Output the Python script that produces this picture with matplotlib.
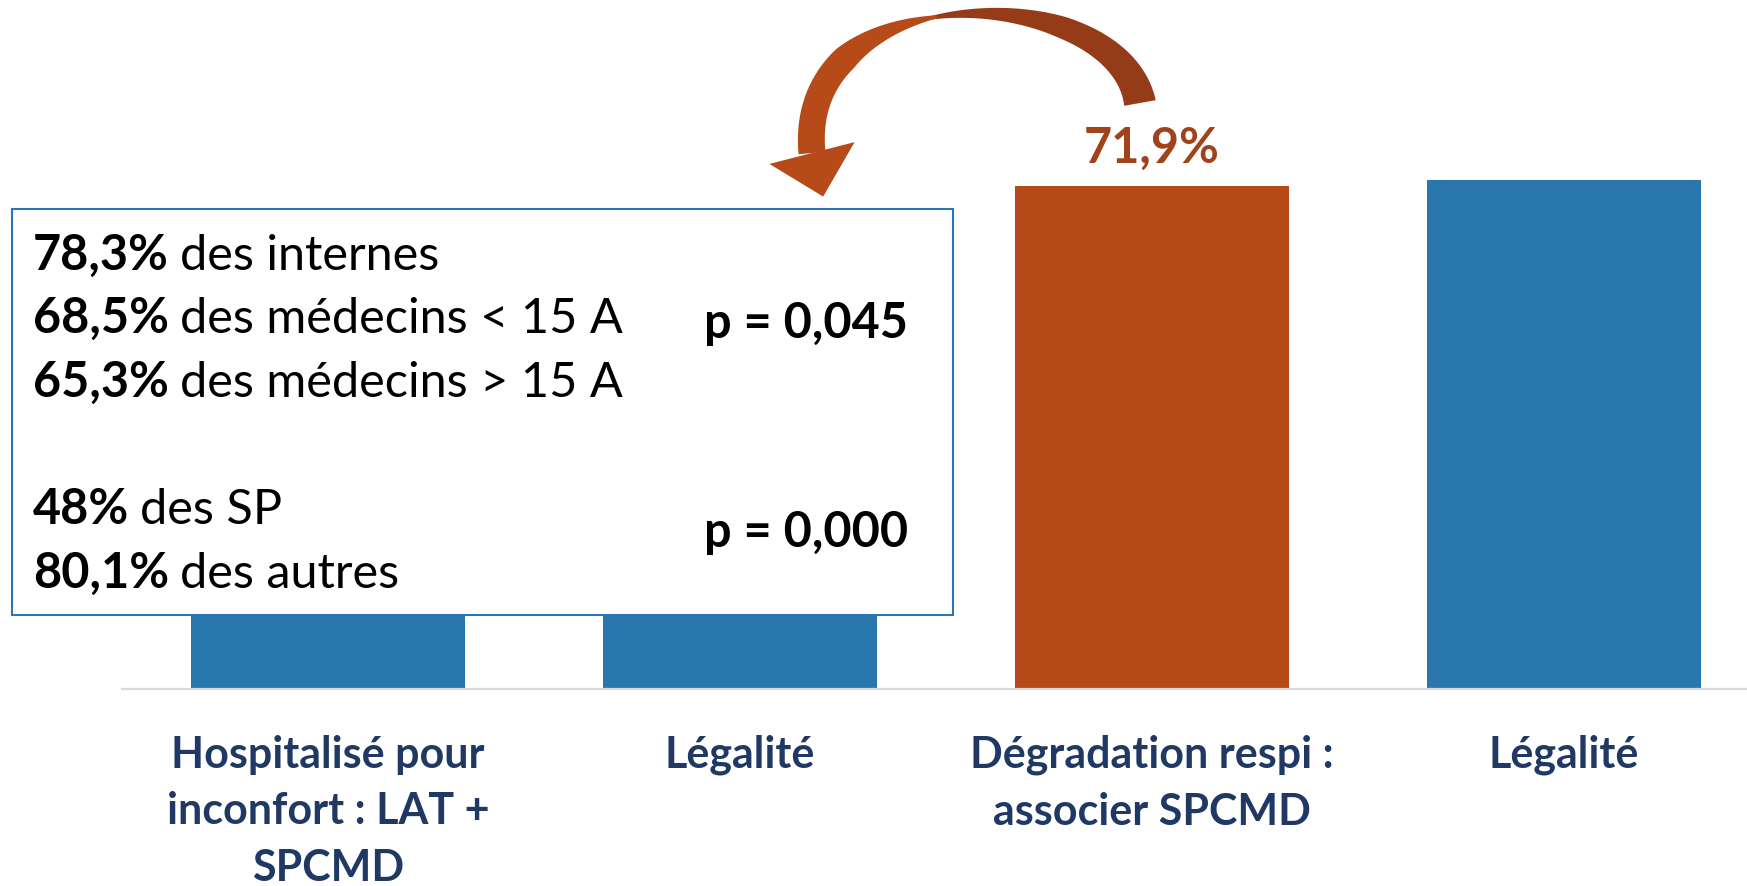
import numpy as np
import matplotlib.pyplot as plt
from matplotlib.patches import Rectangle, Polygon
from matplotlib.transforms import Affine2D

plt.rcParams['font.family'] = ['Lato', 'DejaVu Sans']

###########################
# Data
###########################

categories = ['Hospitalisé pour\ninconfort : LAT +\nSPCMD', 'Légalité',
              'Dégradation respi :\nassocier SPCMD', 'Légalité']
values = [66.4, 62.0, 71.9, 72.8]
show_value = [False, False, True, False]

stat_pct = ['78,3%', '68,5%', '65,3%', '48%', '80,1%']
stat_text = ['des internes', 'des médecins < 15 A', 'des médecins > 15 A',
             'des SP', 'des autres']
p_values = ['p = 0,045', 'p = 0,000']

###########################
# Style
###########################

BLUE = '#2A77AE'
ORANGE = '#B64A19'
DARK_ORANGE = '#963B17'
LABEL_ORANGE = '#A0431A'
NAVY = '#1F3864'
W, H = 1747, 886

bar_colors = [ORANGE if s else BLUE for s in show_value]


def fmt(v):
    return f'{v:.1f}'.replace('.', ',') + '%'


fig = plt.figure(figsize=(W / 100, H / 100), dpi=100)
ax = fig.add_axes([122 / W, (H - 689) / H, (W - 122) / W, 689 / H])

# pixel coordinates, origin top-left, for the annotations
px = Affine2D().scale(1 / W, -1 / H).translate(0, 1) + fig.transFigure

x = np.arange(len(values))
bars = ax.bar(x, values, width=0.663, color=bar_colors, zorder=1)
ax.set_xlim(-0.5, 3.444)
ax.set_ylim(0, 98.5)

for xi, v, s in zip(x, values, show_value):
    if s:
        ax.annotate(fmt(v), xy=(xi, v), xytext=(0, 17), textcoords='offset points',
                    ha='center', va='baseline', fontsize=35, fontweight='bold',
                    color=LABEL_ORANGE)

ax.set_xticks(x)
ax.set_xticklabels(categories, fontsize=31, fontweight='bold', color=NAVY,
                   linespacing=1.5, va='top')
ax.tick_params(axis='x', length=0, pad=33)
ax.set_yticks([])
for side in ['left', 'right', 'top']:
    ax.spines[side].set_visible(False)
ax.spines['bottom'].set_color('#D9D9D9')
ax.spines['bottom'].set_linewidth(1.6)

# callout box over the first two bars
ax.add_patch(Rectangle((12, 615), 941, -406, transform=px, facecolor='white',
                       edgecolor='#2E75B6', linewidth=1.5, zorder=5, clip_on=False))

baselines = [270, 333, 397, 524, 588]
for pct, txt, yb in zip(stat_pct, stat_text, baselines):
    t = ax.text(33, yb, pct, transform=px, fontsize=35, fontweight='bold',
                va='baseline', zorder=6, clip_on=False)
    ax.annotate(txt, xy=(1, 0), xycoords=t, xytext=(8, 0), textcoords='offset points',
                fontsize=35, va='bottom', zorder=6, annotation_clip=False)

for p, yb in zip(p_values, [338, 547]):
    ax.text(704, yb, p, transform=px, fontsize=35, fontweight='bold',
            va='baseline', zorder=6, clip_on=False)


# curved arrow from the orange bar back to the box
def bezier(t, pts):
    p0, p1, p2, p3 = [np.array(p, float) for p in pts]
    t = t[:, None]
    pos = (1 - t) ** 3 * p0 + 3 * (1 - t) ** 2 * t * p1 + 3 * (1 - t) * t ** 2 * p2 + t ** 3 * p3
    der = 3 * (1 - t) ** 2 * (p1 - p0) + 6 * (1 - t) * t * (p2 - p1) + 3 * t ** 2 * (p3 - p2)
    return pos, der


ctrl = [(1140, 103), (1118, -20), (795, -28), (812, 153)]


def band(t0, t1, w0, w1, wmid=None):
    t = np.linspace(t0, t1, 60)
    pos, der = bezier(t, ctrl)
    n = np.stack([-der[:, 1], der[:, 0]], axis=1)
    n /= np.linalg.norm(n, axis=1)[:, None]
    s = (t - t0) / (t1 - t0)
    w = w0 + (w1 - w0) * s if wmid is None else np.interp(s, [0, 0.5, 1], [w0, wmid, w1])
    a = pos + n * (w / 2)[:, None]
    b = pos - n * (w / 2)[:, None]
    return np.vstack([a, b[::-1]])


ax.add_patch(Polygon(band(0.0, 0.57, 32, 3, 22), transform=px, facecolor=DARK_ORANGE,
                     edgecolor='none', zorder=4, clip_on=False))
ax.add_patch(Polygon(band(0.55, 1.0, 3, 27, 26), transform=px, facecolor=ORANGE,
                     edgecolor='none', zorder=4, clip_on=False))

# arrow head, tilted slightly towards the box corner
end, d = bezier(np.array([1.0]), ctrl)
end, d = end[0], d[0] / np.linalg.norm(d[0])
a = np.deg2rad(-9)
d = np.array([d[0] * np.cos(a) - d[1] * np.sin(a), d[0] * np.sin(a) + d[1] * np.cos(a)])
nrm = np.array([-d[1], d[0]])
head = [end + nrm * 44, end - nrm * 44, end + d * 45]
ax.add_patch(Polygon(head, transform=px, facecolor=ORANGE, edgecolor='none',
                     zorder=4, clip_on=False))

fig.savefig('out.png', dpi=100)
